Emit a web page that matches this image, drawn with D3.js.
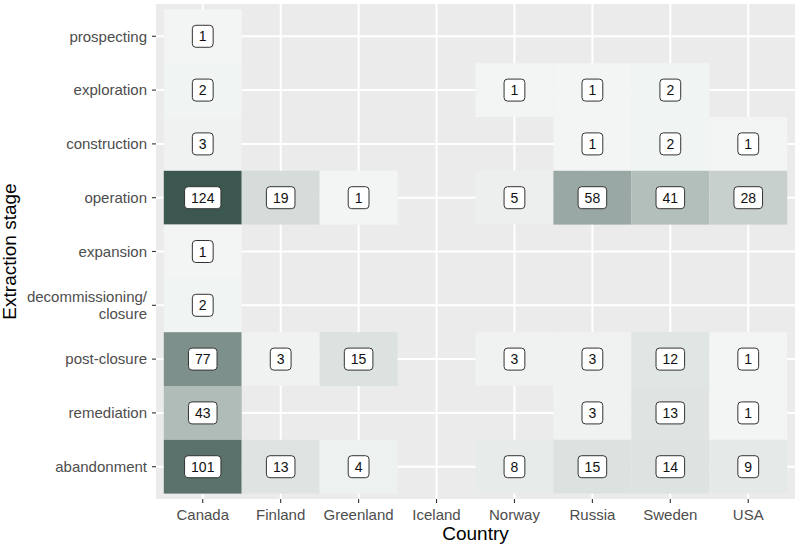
<!DOCTYPE html>
<html>
<head>
<meta charset="utf-8">
<script src="https://cdn.jsdelivr.net/npm/d3@7"></script>
<style>
  body { margin: 0; background: #fff; }
  text { font-family: "Liberation Sans", Arial, sans-serif; }
</style>
</head>
<body>
<svg id="chart"></svg>
<script>
const countries = ['Canada', 'Finland', 'Greenland', 'Iceland', 'Norway', 'Russia', 'Sweden', 'USA'];
const stages = ['prospecting', 'exploration', 'construction', 'operation', 'expansion',
	'decommissioning/\nclosure', 'post-closure', 'remediation', 'abandonment'];
// one row per stage, one column per country (null = no cases)
const prospecting = [1, null, null, null, null, null, null, null];
const exploration = [2, null, null, null, 1, 1, 2, null];
const construction = [3, null, null, null, null, 1, 2, 1];
const operation = [124, 19, 1, null, 5, 58, 41, 28];
const expansion = [1, null, null, null, null, null, null, null];
const decommissioning = [2, null, null, null, null, null, null, null];
const postClosure = [77, 3, 15, null, 3, 3, 12, 1];
const remediation = [43, null, null, null, null, 3, 13, 1];
const abandonment = [101, 13, 4, null, 8, 15, 14, 9];
const counts = [prospecting, exploration, construction, operation, expansion,
	decommissioning, postClosure, remediation, abandonment];

const width = 797,
	height = 548,
	margin = { top: 4, right: 2, bottom: 49, left: 156 };

const svg = d3.select('#chart').attr('width', width).attr('height', height);

const cells = [];
counts.forEach((row, i) => row.forEach((v, j) => {
	if (v != null) cells.push({ stage: stages[i], country: countries[j], value: v });
}));

// discrete scale with ggplot's 0.6 unit expansion
const xStep = (width - margin.right - margin.left) / (countries.length - 1 + 1.2);
const x = d3.scaleBand()
	.domain(countries)
	.range([margin.left + 0.1 * xStep, width - margin.right - 0.1 * xStep])
	.padding(0);
const yStep = (height - margin.bottom - margin.top) / (stages.length - 1 + 1.2);
const y = d3.scaleBand()
	.domain(stages)
	.range([margin.top + 0.1 * yStep, height - margin.bottom - 0.1 * yStep])
	.padding(0);

const color = d3.scaleLinear()
	.domain(d3.extent(cells, d => d.value))
	.range(['#f2f5f4', '#3b5750'])
	.interpolate(d3.interpolateLab);

// panel
svg.append('rect')
	.attr('x', margin.left).attr('y', margin.top)
	.attr('width', width - margin.left - margin.right)
	.attr('height', height - margin.top - margin.bottom)
	.attr('fill', '#ebebeb');

const grid = svg.append('g').attr('stroke', '#fff').attr('stroke-width', 2);
grid.selectAll('.vx').data(countries).join('line')
	.attr('x1', d => x(d) + x.bandwidth() / 2).attr('x2', d => x(d) + x.bandwidth() / 2)
	.attr('y1', margin.top).attr('y2', height - margin.bottom);
grid.selectAll('.hy').data(stages).join('line')
	.attr('y1', d => y(d) + y.bandwidth() / 2).attr('y2', d => y(d) + y.bandwidth() / 2)
	.attr('x1', margin.left).attr('x2', width - margin.right);

// tiles
svg.append('g').selectAll('rect').data(cells).join('rect')
	.attr('x', d => x(d.country))
	.attr('y', d => y(d.stage))
	.attr('width', x.bandwidth())
	.attr('height', y.bandwidth())
	.attr('fill', d => color(d.value));

// labels
const lab = svg.append('g').selectAll('g').data(cells).join('g')
	.attr('transform', d => `translate(${x(d.country) + x.bandwidth() / 2},${y(d.stage) + y.bandwidth() / 2})`);
lab.append('text')
	.attr('text-anchor', 'middle').attr('dy', '0.36em')
	.attr('font-size', 14).attr('fill', '#111')
	.text(d => d.value);
lab.insert('rect', 'text')
	.each(function () {
		const w = this.parentNode.querySelector('text').getComputedTextLength() + 13;
		d3.select(this).attr('x', -w / 2).attr('width', w);
	})
	.attr('y', -11).attr('height', 22)
	.attr('rx', 3.5)
	.attr('fill', '#fff').attr('stroke', '#333').attr('stroke-width', 1);

// x axis
const xAxis = svg.append('g').attr('transform', `translate(0,${height - margin.bottom})`);
xAxis.selectAll('line').data(countries).join('line')
	.attr('x1', d => x(d) + x.bandwidth() / 2).attr('x2', d => x(d) + x.bandwidth() / 2)
	.attr('y1', 0).attr('y2', 4)
	.attr('stroke', '#333').attr('stroke-width', 1.1);
xAxis.selectAll('text').data(countries).join('text')
	.attr('x', d => x(d) + x.bandwidth() / 2).attr('y', 21)
	.attr('text-anchor', 'middle').attr('font-size', 15).attr('fill', '#4d4d4d')
	.text(d => d);

// y axis
const yAxis = svg.append('g').attr('transform', `translate(${margin.left},0)`);
yAxis.selectAll('line').data(stages).join('line')
	.attr('y1', d => y(d) + y.bandwidth() / 2).attr('y2', d => y(d) + y.bandwidth() / 2)
	.attr('x1', -4).attr('x2', 0)
	.attr('stroke', '#333').attr('stroke-width', 1.1);
const yText = yAxis.selectAll('text').data(stages).join('text')
	.attr('x', -9)
	.attr('y', d => y(d) + y.bandwidth() / 2)
	.attr('text-anchor', 'end').attr('font-size', 15).attr('fill', '#4d4d4d');
yText.each(function (d) {
	const lines = d.split('\n');
	const t = d3.select(this);
	lines.forEach((l, i) => {
		t.append('tspan')
			.attr('x', -9)
			.attr('dy', i === 0 ? `${0.35 - (lines.length - 1) * 0.58}em` : '1.16em')
			.text(l);
	});
});

// titles
svg.append('text')
	.attr('x', (margin.left + width - margin.right) / 2).attr('y', 540)
	.attr('text-anchor', 'middle').attr('font-size', 19).attr('fill', '#000')
	.text('Country');
svg.append('text')
	.attr('transform', `translate(16,${(margin.top + height - margin.bottom) / 2}) rotate(-90)`)
	.attr('text-anchor', 'middle').attr('font-size', 19).attr('fill', '#000')
	.text('Extraction stage');
</script>
</body>
</html>
